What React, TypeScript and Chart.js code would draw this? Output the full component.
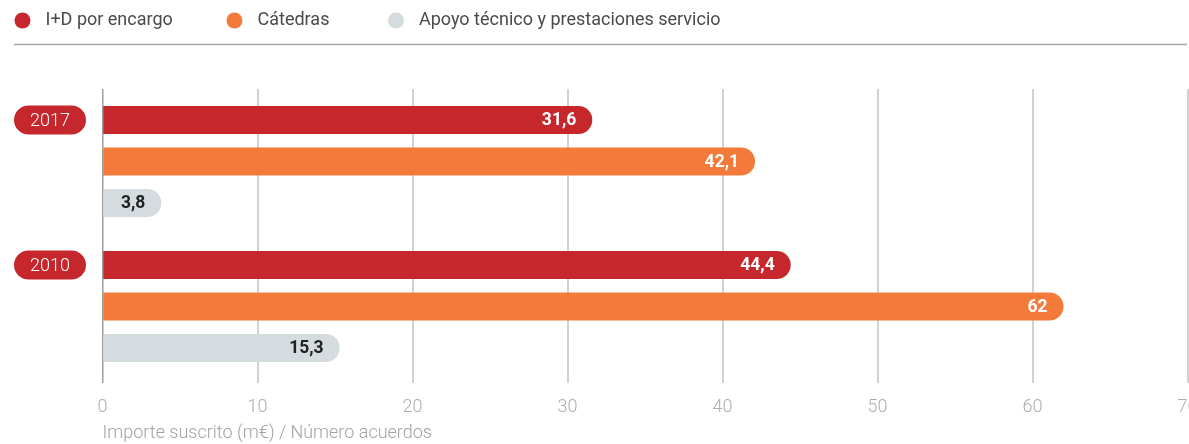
import React, { useEffect, useRef } from 'react';
import { Chart, registerables } from 'chart.js';

Chart.register(...registerables);

const categories = ['2017', '2010'];
const seriesNames = ['I+D por encargo', 'Cátedras', 'Apoyo técnico y prestaciones servicio'];
const idValues = [31.6, 44.4];
const catedrasValues = [42.1, 62];
const apoyoValues = [3.8, 15.3];
const xMin = 0;
const xMax = 70;
const xStep = 10;
const axisTitle = 'Importe suscrito (m€) / Número acuerdos';

const seriesColors = ['#C6272D', '#F47A3A', '#D5DCDF'];
const valueLabelColors = ['#ffffff', '#ffffff', '#222222'];
const FONT = 'Roboto';

const legendPlugin = {
  id: 'customLegend',
  afterDraw(chart: any) {
    const ctx = chart.ctx;
    const dotX = [22.5, 234.5, 396];
    const y = 20.5;
    ctx.save();
    chart.data.datasets.forEach((ds: any, i: number) => {
      ctx.beginPath();
      ctx.arc(dotX[i], y, 8, 0, Math.PI * 2);
      ctx.fillStyle = ds.backgroundColor;
      ctx.fill();
      ctx.fillStyle = '#4a4a4a';
      ctx.font = `400 18px ${FONT}`;
      ctx.textAlign = 'left';
      ctx.textBaseline = 'middle';
      ctx.fillText(ds.label, dotX[i] + 23, y);
    });
    ctx.beginPath();
    ctx.moveTo(14, 44.5);
    ctx.lineTo(1187, 44.5);
    ctx.strokeStyle = '#a6a6a6';
    ctx.lineWidth = 1.5;
    ctx.stroke();
    ctx.restore();
  },
};

const barLabelsPlugin = {
  id: 'barLabels',
  afterDatasetsDraw(chart: any) {
    const ctx = chart.ctx;
    ctx.save();
    chart.data.datasets.forEach((ds: any, di: number) => {
      const meta = chart.getDatasetMeta(di);
      meta.data.forEach((el: any, i: number) => {
        const v = ds.data[i];
        const txt = String(v).replace('.', ',');
        ctx.font = `700 17.5px ${FONT}`;
        ctx.fillStyle = valueLabelColors[di];
        ctx.textAlign = 'right';
        ctx.textBaseline = 'middle';
        ctx.fillText(txt, el.x - 16, el.y + 1);
      });
    });
    // year pills aligned with the first bar of each group
    const meta0 = chart.getDatasetMeta(0);
    meta0.data.forEach((el: any, i: number) => {
      const h = 29;
      const x0 = 14;
      const w = 72;
      const yTop = el.y - h / 2;
      ctx.beginPath();
      ctx.moveTo(x0 + h / 2, yTop);
      ctx.lineTo(x0 + w - h / 2, yTop);
      ctx.arc(x0 + w - h / 2, el.y, h / 2, -Math.PI / 2, Math.PI / 2);
      ctx.lineTo(x0 + h / 2, yTop + h);
      ctx.arc(x0 + h / 2, el.y, h / 2, Math.PI / 2, Math.PI * 1.5);
      ctx.closePath();
      ctx.fillStyle = seriesColors[0];
      ctx.fill();
      ctx.fillStyle = '#ffffff';
      ctx.font = `300 18px ${FONT}`;
      ctx.textAlign = 'center';
      ctx.textBaseline = 'middle';
      ctx.fillText(chart.data.labels[i], x0 + w / 2, el.y + 1);
    });
    ctx.restore();
  },
};

export default function App() {
  const canvasRef = useRef<HTMLCanvasElement | null>(null);

  useEffect(() => {
    if (!canvasRef.current) return;
    const allValues = [idValues, catedrasValues, apoyoValues];
    const chart = new Chart(canvasRef.current, {
      type: 'bar',
      data: {
        labels: categories,
        datasets: allValues.map((vals, i) => ({
          label: seriesNames[i],
          data: vals,
          backgroundColor: seriesColors[i],
          borderRadius: 14,
          borderSkipped: 'start',
          barPercentage: 0.6747,
          categoryPercentage: 0.8586,
        })),
      },
      options: {
        indexAxis: 'y',
        responsive: false,
        animation: false,
        devicePixelRatio: 1,
        layout: { padding: { left: 102.5, right: 1.5, top: 89, bottom: 0 } },
        plugins: {
          legend: { display: false },
          tooltip: { enabled: false },
          title: { display: false },
        },
        scales: {
          y: { display: false },
          x: {
            type: 'linear',
            min: xMin,
            max: xMax,
            position: 'bottom',
            border: { display: false },
            grid: {
              color: (c: any) => (c.tick && c.tick.value === 0 ? '#9e9e9e' : '#d2d2d2'),
              lineWidth: (c: any) => (c.tick && c.tick.value === 0 ? 1.5 : 2),
              drawTicks: true,
              tickLength: 4,
            },
            ticks: {
              stepSize: xStep,
              color: '#adadad',
              padding: 14,
              font: { family: FONT, size: 18, weight: '300' },
              maxRotation: 0,
              autoSkip: false,
            },
            title: {
              display: true,
              text: axisTitle,
              align: 'start',
              color: '#a3a3a3',
              padding: { top: 0, bottom: 0 },
              font: { family: FONT, size: 18, weight: '300' },
            },
            afterFit: (scale: any) => {
              scale.paddingLeft = 0;
              scale.paddingRight = 0;
              scale.height = 65;
            },
          },
        },
      },
      plugins: [legendPlugin, barLabelsPlugin],
    } as any);
    return () => chart.destroy();
  }, []);

  return (
    <div style={{ position: 'absolute', left: 0, top: 0, width: 1189, height: 444, background: '#fff' }}>
      <canvas ref={canvasRef} width={1189} height={444} style={{ display: 'block' }} />
    </div>
  );
}
